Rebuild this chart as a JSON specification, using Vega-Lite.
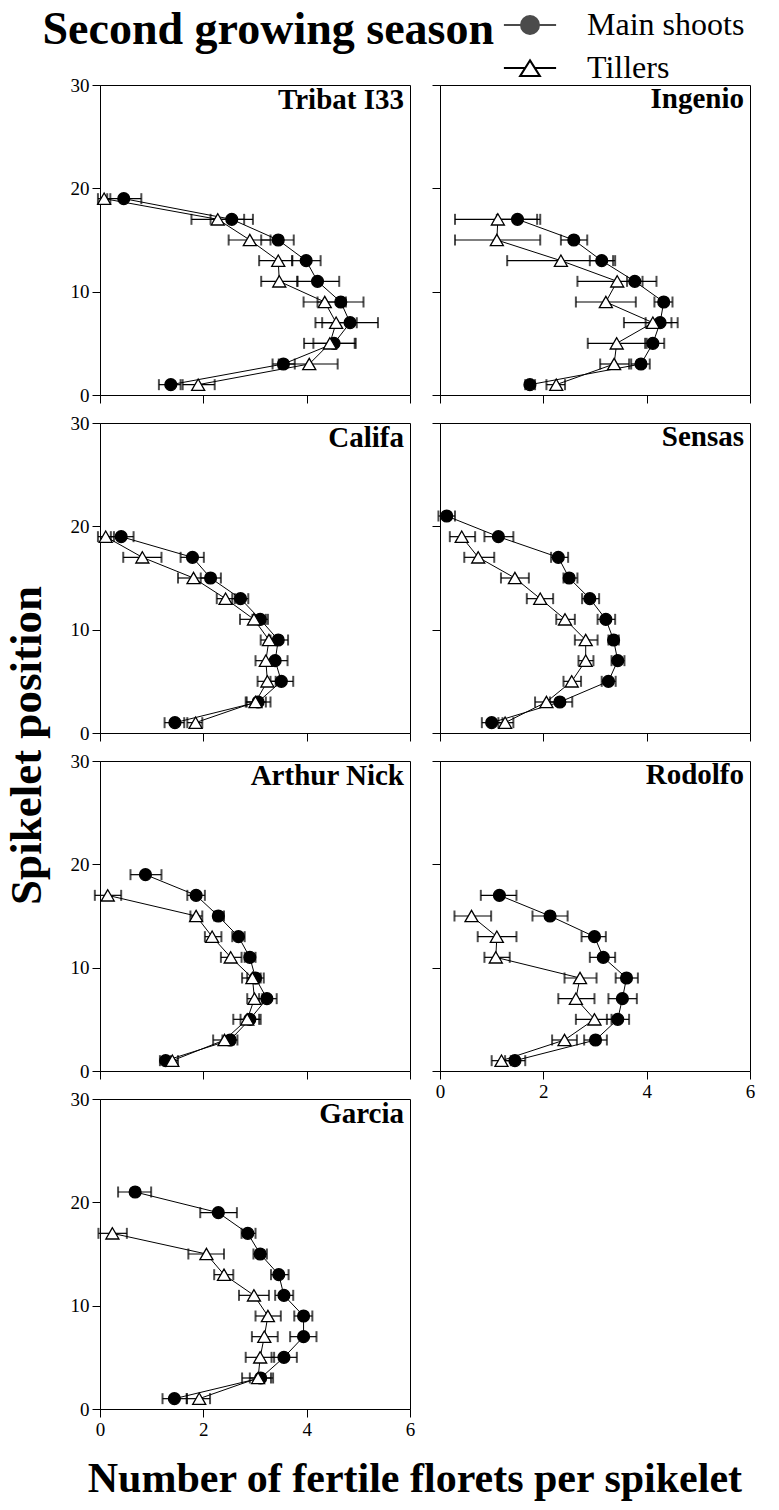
{
  "$schema": "https://vega.github.io/schema/vega-lite/v6.json",
  "background": "white",
  "padding": {"left": 4, "top": 7, "right": 5, "bottom": 5},
  "title": {"text": "Second growing season", "anchor": "start", "frame": "bounds", "orient": "top", "fontSize": 46, "fontWeight": "bold", "font": "Liberation Serif", "color": "black", "offset": -45, "dx": 38},
  "config": {
    "font": "Liberation Serif",
    "view": {"stroke": "black", "strokeWidth": 1},
    "legend": {"symbolBaseFillColor": "white", "symbolBaseStrokeColor": "black"},
    "axis": {"grid": false, "domainColor": "black", "tickColor": "black", "labelColor": "black", "labelFont": "Liberation Serif", "labelFontSize": 19, "tickSize": 8, "labelPadding": 3, "domainWidth": 1, "tickWidth": 1, "labelFlush": false, "labelOverlap": false}
  },
  "datasets": {
    "d": [
      {"cv":"Tribat I33","shoot":"Main shoots","pos":1,"mean":1.37,"lo":1.14,"hi":1.56},
      {"cv":"Tribat I33","shoot":"Main shoots","pos":3,"mean":3.55,"lo":3.34,"hi":3.77},
      {"cv":"Tribat I33","shoot":"Main shoots","pos":5,"mean":4.53,"lo":4.13,"hi":4.93},
      {"cv":"Tribat I33","shoot":"Main shoots","pos":7,"mean":4.84,"lo":4.30,"hi":5.38},
      {"cv":"Tribat I33","shoot":"Main shoots","pos":9,"mean":4.66,"lo":4.21,"hi":5.10},
      {"cv":"Tribat I33","shoot":"Main shoots","pos":11,"mean":4.21,"lo":3.82,"hi":4.63},
      {"cv":"Tribat I33","shoot":"Main shoots","pos":13,"mean":3.99,"lo":3.72,"hi":4.27},
      {"cv":"Tribat I33","shoot":"Main shoots","pos":15,"mean":3.45,"lo":3.12,"hi":3.75},
      {"cv":"Tribat I33","shoot":"Main shoots","pos":17,"mean":2.55,"lo":2.14,"hi":2.96},
      {"cv":"Tribat I33","shoot":"Main shoots","pos":19,"mean":0.46,"lo":0.14,"hi":0.80},
      {"cv":"Tribat I33","shoot":"Tillers","pos":1,"mean":1.90,"lo":1.60,"hi":2.22},
      {"cv":"Tribat I33","shoot":"Tillers","pos":3,"mean":4.05,"lo":3.46,"hi":4.60},
      {"cv":"Tribat I33","shoot":"Tillers","pos":5,"mean":4.45,"lo":3.95,"hi":4.95},
      {"cv":"Tribat I33","shoot":"Tillers","pos":7,"mean":4.57,"lo":4.17,"hi":4.97},
      {"cv":"Tribat I33","shoot":"Tillers","pos":9,"mean":4.35,"lo":3.94,"hi":4.76},
      {"cv":"Tribat I33","shoot":"Tillers","pos":11,"mean":3.47,"lo":3.12,"hi":3.82},
      {"cv":"Tribat I33","shoot":"Tillers","pos":13,"mean":3.45,"lo":3.08,"hi":3.72},
      {"cv":"Tribat I33","shoot":"Tillers","pos":15,"mean":2.90,"lo":2.49,"hi":3.30},
      {"cv":"Tribat I33","shoot":"Tillers","pos":17,"mean":2.28,"lo":1.77,"hi":2.79},
      {"cv":"Tribat I33","shoot":"Tillers","pos":19,"mean":0.08,"lo":-0.04,"hi":0.20},
      {"cv":"Ingenio","shoot":"Main shoots","pos":1,"mean":1.74,"lo":1.65,"hi":1.84},
      {"cv":"Ingenio","shoot":"Main shoots","pos":3,"mean":3.89,"lo":3.70,"hi":4.06},
      {"cv":"Ingenio","shoot":"Main shoots","pos":5,"mean":4.12,"lo":3.97,"hi":4.34},
      {"cv":"Ingenio","shoot":"Main shoots","pos":7,"mean":4.26,"lo":3.98,"hi":4.60},
      {"cv":"Ingenio","shoot":"Main shoots","pos":9,"mean":4.33,"lo":4.15,"hi":4.50},
      {"cv":"Ingenio","shoot":"Main shoots","pos":11,"mean":3.77,"lo":3.62,"hi":3.92},
      {"cv":"Ingenio","shoot":"Main shoots","pos":13,"mean":3.13,"lo":2.90,"hi":3.39},
      {"cv":"Ingenio","shoot":"Main shoots","pos":15,"mean":2.59,"lo":2.34,"hi":2.85},
      {"cv":"Ingenio","shoot":"Main shoots","pos":17,"mean":1.50,"lo":1.10,"hi":1.88},
      {"cv":"Ingenio","shoot":"Tillers","pos":1,"mean":2.25,"lo":2.06,"hi":2.42},
      {"cv":"Ingenio","shoot":"Tillers","pos":3,"mean":3.37,"lo":3.10,"hi":3.66},
      {"cv":"Ingenio","shoot":"Tillers","pos":5,"mean":3.42,"lo":2.86,"hi":4.00},
      {"cv":"Ingenio","shoot":"Tillers","pos":7,"mean":4.12,"lo":3.56,"hi":4.48},
      {"cv":"Ingenio","shoot":"Tillers","pos":9,"mean":3.21,"lo":2.63,"hi":3.79},
      {"cv":"Ingenio","shoot":"Tillers","pos":11,"mean":3.43,"lo":2.66,"hi":4.19},
      {"cv":"Ingenio","shoot":"Tillers","pos":13,"mean":2.34,"lo":1.30,"hi":3.35},
      {"cv":"Ingenio","shoot":"Tillers","pos":15,"mean":1.10,"lo":0.29,"hi":1.94},
      {"cv":"Ingenio","shoot":"Tillers","pos":17,"mean":1.12,"lo":0.29,"hi":1.94},
      {"cv":"Califa","shoot":"Main shoots","pos":1,"mean":1.45,"lo":1.25,"hi":1.63},
      {"cv":"Califa","shoot":"Main shoots","pos":3,"mean":3.06,"lo":2.82,"hi":3.30},
      {"cv":"Califa","shoot":"Main shoots","pos":5,"mean":3.51,"lo":3.30,"hi":3.74},
      {"cv":"Califa","shoot":"Main shoots","pos":7,"mean":3.39,"lo":3.21,"hi":3.63},
      {"cv":"Califa","shoot":"Main shoots","pos":9,"mean":3.45,"lo":3.30,"hi":3.64},
      {"cv":"Califa","shoot":"Main shoots","pos":11,"mean":3.10,"lo":2.95,"hi":3.25},
      {"cv":"Califa","shoot":"Main shoots","pos":13,"mean":2.72,"lo":2.56,"hi":2.87},
      {"cv":"Califa","shoot":"Main shoots","pos":15,"mean":2.14,"lo":1.95,"hi":2.34},
      {"cv":"Califa","shoot":"Main shoots","pos":17,"mean":1.79,"lo":1.56,"hi":2.01},
      {"cv":"Califa","shoot":"Main shoots","pos":19,"mean":0.41,"lo":0.21,"hi":0.65},
      {"cv":"Califa","shoot":"Tillers","pos":1,"mean":1.85,"lo":1.69,"hi":1.98},
      {"cv":"Califa","shoot":"Tillers","pos":3,"mean":3.01,"lo":2.84,"hi":3.21},
      {"cv":"Califa","shoot":"Tillers","pos":5,"mean":3.24,"lo":3.05,"hi":3.40},
      {"cv":"Califa","shoot":"Tillers","pos":7,"mean":3.21,"lo":3.01,"hi":3.40},
      {"cv":"Califa","shoot":"Tillers","pos":9,"mean":3.27,"lo":3.11,"hi":3.43},
      {"cv":"Califa","shoot":"Tillers","pos":11,"mean":2.98,"lo":2.71,"hi":3.21},
      {"cv":"Califa","shoot":"Tillers","pos":13,"mean":2.43,"lo":2.26,"hi":2.61},
      {"cv":"Califa","shoot":"Tillers","pos":15,"mean":1.81,"lo":1.51,"hi":2.08},
      {"cv":"Califa","shoot":"Tillers","pos":17,"mean":0.82,"lo":0.45,"hi":1.19},
      {"cv":"Califa","shoot":"Tillers","pos":19,"mean":0.11,"lo":-0.04,"hi":0.27},
      {"cv":"Sensas","shoot":"Main shoots","pos":1,"mean":1.00,"lo":0.81,"hi":1.21},
      {"cv":"Sensas","shoot":"Main shoots","pos":3,"mean":2.32,"lo":2.13,"hi":2.56},
      {"cv":"Sensas","shoot":"Main shoots","pos":5,"mean":3.26,"lo":3.13,"hi":3.40},
      {"cv":"Sensas","shoot":"Main shoots","pos":7,"mean":3.44,"lo":3.32,"hi":3.57},
      {"cv":"Sensas","shoot":"Main shoots","pos":9,"mean":3.36,"lo":3.26,"hi":3.46},
      {"cv":"Sensas","shoot":"Main shoots","pos":11,"mean":3.21,"lo":3.05,"hi":3.39},
      {"cv":"Sensas","shoot":"Main shoots","pos":13,"mean":2.90,"lo":2.75,"hi":3.08},
      {"cv":"Sensas","shoot":"Main shoots","pos":15,"mean":2.50,"lo":2.39,"hi":2.66},
      {"cv":"Sensas","shoot":"Main shoots","pos":17,"mean":2.29,"lo":2.15,"hi":2.48},
      {"cv":"Sensas","shoot":"Main shoots","pos":19,"mean":1.13,"lo":0.86,"hi":1.42},
      {"cv":"Sensas","shoot":"Main shoots","pos":21,"mean":0.13,"lo":-0.03,"hi":0.29},
      {"cv":"Sensas","shoot":"Tillers","pos":1,"mean":1.26,"lo":1.13,"hi":1.42},
      {"cv":"Sensas","shoot":"Tillers","pos":3,"mean":2.06,"lo":1.84,"hi":2.29},
      {"cv":"Sensas","shoot":"Tillers","pos":5,"mean":2.55,"lo":2.39,"hi":2.73},
      {"cv":"Sensas","shoot":"Tillers","pos":7,"mean":2.82,"lo":2.68,"hi":2.97},
      {"cv":"Sensas","shoot":"Tillers","pos":9,"mean":2.82,"lo":2.61,"hi":3.05},
      {"cv":"Sensas","shoot":"Tillers","pos":11,"mean":2.42,"lo":2.25,"hi":2.61},
      {"cv":"Sensas","shoot":"Tillers","pos":13,"mean":1.94,"lo":1.68,"hi":2.19},
      {"cv":"Sensas","shoot":"Tillers","pos":15,"mean":1.45,"lo":1.18,"hi":1.72},
      {"cv":"Sensas","shoot":"Tillers","pos":17,"mean":0.74,"lo":0.47,"hi":1.05},
      {"cv":"Sensas","shoot":"Tillers","pos":19,"mean":0.42,"lo":0.19,"hi":0.68},
      {"cv":"Arthur Nick","shoot":"Main shoots","pos":1,"mean":1.27,"lo":1.16,"hi":1.37},
      {"cv":"Arthur Nick","shoot":"Main shoots","pos":3,"mean":2.52,"lo":2.37,"hi":2.66},
      {"cv":"Arthur Nick","shoot":"Main shoots","pos":5,"mean":2.90,"lo":2.72,"hi":3.11},
      {"cv":"Arthur Nick","shoot":"Main shoots","pos":7,"mean":3.23,"lo":3.08,"hi":3.42},
      {"cv":"Arthur Nick","shoot":"Main shoots","pos":9,"mean":3.01,"lo":2.85,"hi":3.17},
      {"cv":"Arthur Nick","shoot":"Main shoots","pos":11,"mean":2.90,"lo":2.80,"hi":3.01},
      {"cv":"Arthur Nick","shoot":"Main shoots","pos":13,"mean":2.68,"lo":2.56,"hi":2.80},
      {"cv":"Arthur Nick","shoot":"Main shoots","pos":15,"mean":2.29,"lo":2.21,"hi":2.40},
      {"cv":"Arthur Nick","shoot":"Main shoots","pos":17,"mean":1.86,"lo":1.69,"hi":2.03},
      {"cv":"Arthur Nick","shoot":"Main shoots","pos":19,"mean":0.88,"lo":0.59,"hi":1.19},
      {"cv":"Arthur Nick","shoot":"Tillers","pos":1,"mean":1.40,"lo":1.29,"hi":1.51},
      {"cv":"Arthur Nick","shoot":"Tillers","pos":3,"mean":2.41,"lo":2.19,"hi":2.59},
      {"cv":"Arthur Nick","shoot":"Tillers","pos":5,"mean":2.85,"lo":2.58,"hi":3.08},
      {"cv":"Arthur Nick","shoot":"Tillers","pos":7,"mean":2.99,"lo":2.85,"hi":3.14},
      {"cv":"Arthur Nick","shoot":"Tillers","pos":9,"mean":2.95,"lo":2.75,"hi":3.11},
      {"cv":"Arthur Nick","shoot":"Tillers","pos":11,"mean":2.53,"lo":2.34,"hi":2.74},
      {"cv":"Arthur Nick","shoot":"Tillers","pos":13,"mean":2.17,"lo":2.03,"hi":2.35},
      {"cv":"Arthur Nick","shoot":"Tillers","pos":15,"mean":1.86,"lo":1.75,"hi":1.98},
      {"cv":"Arthur Nick","shoot":"Tillers","pos":17,"mean":0.15,"lo":-0.10,"hi":0.41},
      {"cv":"Rodolfo","shoot":"Main shoots","pos":1,"mean":1.45,"lo":1.26,"hi":1.65},
      {"cv":"Rodolfo","shoot":"Main shoots","pos":3,"mean":3.01,"lo":2.79,"hi":3.23},
      {"cv":"Rodolfo","shoot":"Main shoots","pos":5,"mean":3.44,"lo":3.23,"hi":3.66},
      {"cv":"Rodolfo","shoot":"Main shoots","pos":7,"mean":3.53,"lo":3.26,"hi":3.81},
      {"cv":"Rodolfo","shoot":"Main shoots","pos":9,"mean":3.61,"lo":3.40,"hi":3.83},
      {"cv":"Rodolfo","shoot":"Main shoots","pos":11,"mean":3.16,"lo":2.90,"hi":3.39},
      {"cv":"Rodolfo","shoot":"Main shoots","pos":13,"mean":2.99,"lo":2.74,"hi":3.21},
      {"cv":"Rodolfo","shoot":"Main shoots","pos":15,"mean":2.13,"lo":1.79,"hi":2.47},
      {"cv":"Rodolfo","shoot":"Main shoots","pos":17,"mean":1.15,"lo":0.79,"hi":1.48},
      {"cv":"Rodolfo","shoot":"Tillers","pos":1,"mean":1.19,"lo":1.00,"hi":1.37},
      {"cv":"Rodolfo","shoot":"Tillers","pos":3,"mean":2.41,"lo":2.17,"hi":2.65},
      {"cv":"Rodolfo","shoot":"Tillers","pos":5,"mean":2.99,"lo":2.63,"hi":3.32},
      {"cv":"Rodolfo","shoot":"Tillers","pos":7,"mean":2.63,"lo":2.29,"hi":2.99},
      {"cv":"Rodolfo","shoot":"Tillers","pos":9,"mean":2.71,"lo":2.41,"hi":3.03},
      {"cv":"Rodolfo","shoot":"Tillers","pos":11,"mean":1.08,"lo":0.86,"hi":1.35},
      {"cv":"Rodolfo","shoot":"Tillers","pos":13,"mean":1.10,"lo":0.73,"hi":1.48},
      {"cv":"Rodolfo","shoot":"Tillers","pos":15,"mean":0.61,"lo":0.28,"hi":0.99},
      {"cv":"Garcia","shoot":"Main shoots","pos":1,"mean":1.44,"lo":1.21,"hi":1.68},
      {"cv":"Garcia","shoot":"Main shoots","pos":3,"mean":3.11,"lo":2.90,"hi":3.35},
      {"cv":"Garcia","shoot":"Main shoots","pos":5,"mean":3.56,"lo":3.32,"hi":3.81},
      {"cv":"Garcia","shoot":"Main shoots","pos":7,"mean":3.94,"lo":3.68,"hi":4.19},
      {"cv":"Garcia","shoot":"Main shoots","pos":9,"mean":3.94,"lo":3.76,"hi":4.11},
      {"cv":"Garcia","shoot":"Main shoots","pos":11,"mean":3.56,"lo":3.39,"hi":3.74},
      {"cv":"Garcia","shoot":"Main shoots","pos":13,"mean":3.46,"lo":3.31,"hi":3.65},
      {"cv":"Garcia","shoot":"Main shoots","pos":15,"mean":3.10,"lo":2.97,"hi":3.23},
      {"cv":"Garcia","shoot":"Main shoots","pos":17,"mean":2.86,"lo":2.74,"hi":3.01},
      {"cv":"Garcia","shoot":"Main shoots","pos":19,"mean":2.29,"lo":1.94,"hi":2.65},
      {"cv":"Garcia","shoot":"Main shoots","pos":21,"mean":0.68,"lo":0.35,"hi":0.99},
      {"cv":"Garcia","shoot":"Tillers","pos":1,"mean":1.92,"lo":1.68,"hi":2.13},
      {"cv":"Garcia","shoot":"Tillers","pos":3,"mean":3.06,"lo":2.75,"hi":3.31},
      {"cv":"Garcia","shoot":"Tillers","pos":5,"mean":3.10,"lo":2.82,"hi":3.37},
      {"cv":"Garcia","shoot":"Tillers","pos":7,"mean":3.18,"lo":2.94,"hi":3.44},
      {"cv":"Garcia","shoot":"Tillers","pos":9,"mean":3.25,"lo":3.01,"hi":3.50},
      {"cv":"Garcia","shoot":"Tillers","pos":11,"mean":2.98,"lo":2.69,"hi":3.27},
      {"cv":"Garcia","shoot":"Tillers","pos":13,"mean":2.40,"lo":2.21,"hi":2.58},
      {"cv":"Garcia","shoot":"Tillers","pos":15,"mean":2.06,"lo":1.71,"hi":2.40},
      {"cv":"Garcia","shoot":"Tillers","pos":17,"mean":0.24,"lo":-0.03,"hi":0.52}
    ]
  },
  "vconcat": [
    {
      "title": {"text": "Number of fertile florets per spikelet", "orient": "bottom", "anchor": "middle", "frame": "bounds", "fontSize": 42, "fontWeight": "bold", "font": "Liberation Serif", "color": "black", "offset": 19, "dx": 35},
      "vconcat": [
        {
          "title": {"text": "Spikelet position", "orient": "left", "anchor": "middle", "frame": "bounds", "fontSize": 45, "fontWeight": "bold", "font": "Liberation Serif", "color": "black", "offset": 20, "dx": 12},
          "columns": 2,
          "bounds": "flush",
          "spacing": {"row": 28, "column": 30},
          "concat": [
            {
              "width": 310, "height": 310,
              "title": {"text": "Tribat I33", "anchor": "end", "frame": "group", "orient": "top", "offset": -12, "dy": 27, "dx": -6, "fontSize": 29, "fontWeight": "bold", "font": "Liberation Serif", "color": "black"},
              "data": {"name": "d"},
              "transform": [{"filter": {"field": "cv", "equal": "Tribat I33"}}],
              "encoding": {"y": {"field": "pos", "type": "quantitative", "title": null, "scale": {"domain": [0, 30], "nice": false}, "axis": {"values": [0, 10, 20, 30], "labels": true}}},
              "layer": [
                {"mark": {"type": "rule", "color": "black", "strokeWidth": 1.2}, "encoding": {"x": {"field": "lo", "type": "quantitative", "title": null, "scale": {"domain": [0, 6], "nice": false}, "axis": {"values": [0, 2, 4, 6], "labels": false}}, "x2": {"field": "hi"}}},
                {"mark": {"type": "tick", "orient": "vertical", "color": "black", "size": 11, "thickness": 2}, "encoding": {"x": {"field": "lo", "type": "quantitative", "title": null}}},
                {"mark": {"type": "tick", "orient": "vertical", "color": "black", "size": 11, "thickness": 2}, "encoding": {"x": {"field": "hi", "type": "quantitative", "title": null}}},
                {"mark": {"type": "line", "color": "black", "strokeWidth": 1}, "encoding": {"x": {"field": "mean", "type": "quantitative", "title": null}, "detail": {"field": "shoot"}, "order": {"field": "pos", "type": "quantitative"}}},
                {"mark": {"type": "point", "filled": true, "stroke": "black", "strokeWidth": 1.3}, "encoding": {
                  "x": {"field": "mean", "type": "quantitative", "title": null},
                  "shape": {"field": "shoot", "type": "nominal", "scale": {"range": ["circle", "triangle-up"]}, "legend": null},
                  "size": {"field": "shoot", "type": "nominal", "scale": {"range": [140, 170]}, "legend": null},
                  "fill": {"field": "shoot", "type": "nominal", "scale": {"domain": ["Main shoots", "Tillers"], "range": ["black", "white"]},
                    "legend": {"title": null, "orient": "none", "legendX": 414, "legendY": -76, "values": ["Main shoots"], "labelFont": "Liberation Serif", "labelFontSize": 32, "labelColor": "black", "labelOffset": 41, "symbolSize": 324, "symbolType": "M-2.9,0H2.9M1,0A1,1,0,1,1,-1,0A1,1,0,1,1,1,0Z", "symbolStrokeColor": "black", "symbolStrokeWidth": 2, "symbolOpacity": 1}},
                  "opacity": {"field": "shoot", "type": "nominal", "scale": {"domain": ["Tillers", "Main shoots"], "range": [1, 1]},
                    "legend": {"title": null, "orient": "none", "legendX": 414, "legendY": -33, "values": ["Tillers"], "labelFont": "Liberation Serif", "labelFontSize": 32, "labelColor": "black", "labelOffset": 41, "symbolSize": 324, "symbolType": "M-2.9,0H-0.53M0.53,0H2.9M0,-0.85L1.1,0.9L-1.1,0.9Z", "symbolFillColor": "white", "symbolStrokeColor": "black", "symbolStrokeWidth": 2, "symbolOpacity": 1}}}}
              ]
            },
            {
              "width": 310, "height": 310,
              "title": {"text": "Ingenio", "anchor": "end", "frame": "group", "orient": "top", "offset": -2, "dy": 27, "dx": -6, "fontSize": 29, "fontWeight": "bold", "font": "Liberation Serif", "color": "black"},
              "data": {"name": "d"},
              "transform": [{"filter": {"field": "cv", "equal": "Ingenio"}}],
              "encoding": {"y": {"field": "pos", "type": "quantitative", "title": null, "scale": {"domain": [0, 30], "nice": false}, "axis": {"values": [0, 10, 20, 30], "labels": false}}},
              "layer": [
                {"mark": {"type": "rule", "color": "black", "strokeWidth": 1.2}, "encoding": {"x": {"field": "lo", "type": "quantitative", "title": null, "scale": {"domain": [0, 6], "nice": false}, "axis": {"values": [0, 2, 4, 6], "labels": false}}, "x2": {"field": "hi"}}},
                {"mark": {"type": "tick", "orient": "vertical", "color": "black", "size": 11, "thickness": 2}, "encoding": {"x": {"field": "lo", "type": "quantitative", "title": null}}},
                {"mark": {"type": "tick", "orient": "vertical", "color": "black", "size": 11, "thickness": 2}, "encoding": {"x": {"field": "hi", "type": "quantitative", "title": null}}},
                {"mark": {"type": "line", "color": "black", "strokeWidth": 1}, "encoding": {"x": {"field": "mean", "type": "quantitative", "title": null}, "detail": {"field": "shoot"}, "order": {"field": "pos", "type": "quantitative"}}},
                {"mark": {"type": "point", "filled": true, "stroke": "black", "strokeWidth": 1.3}, "encoding": {
                  "x": {"field": "mean", "type": "quantitative", "title": null},
                  "shape": {"field": "shoot", "type": "nominal", "scale": {"range": ["circle", "triangle-up"]}, "legend": null},
                  "size": {"field": "shoot", "type": "nominal", "scale": {"range": [140, 170]}, "legend": null},
                  "fill": {"field": "shoot", "type": "nominal", "scale": {"domain": ["Main shoots", "Tillers"], "range": ["black", "white"]}},
                  "opacity": {"field": "shoot", "type": "nominal", "scale": {"domain": ["Tillers", "Main shoots"], "range": [1, 1]}}}}
              ]
            },
            {
              "width": 310, "height": 310,
              "title": {"text": "Califa", "anchor": "end", "frame": "group", "orient": "top", "offset": -12, "dy": 27, "dx": -6, "fontSize": 29, "fontWeight": "bold", "font": "Liberation Serif", "color": "black"},
              "data": {"name": "d"},
              "transform": [{"filter": {"field": "cv", "equal": "Califa"}}],
              "encoding": {"y": {"field": "pos", "type": "quantitative", "title": null, "scale": {"domain": [0, 30], "nice": false}, "axis": {"values": [0, 10, 20, 30], "labels": true}}},
              "layer": [
                {"mark": {"type": "rule", "color": "black", "strokeWidth": 1.2}, "encoding": {"x": {"field": "lo", "type": "quantitative", "title": null, "scale": {"domain": [0, 6], "nice": false}, "axis": {"values": [0, 2, 4, 6], "labels": false}}, "x2": {"field": "hi"}}},
                {"mark": {"type": "tick", "orient": "vertical", "color": "black", "size": 11, "thickness": 2}, "encoding": {"x": {"field": "lo", "type": "quantitative", "title": null}}},
                {"mark": {"type": "tick", "orient": "vertical", "color": "black", "size": 11, "thickness": 2}, "encoding": {"x": {"field": "hi", "type": "quantitative", "title": null}}},
                {"mark": {"type": "line", "color": "black", "strokeWidth": 1}, "encoding": {"x": {"field": "mean", "type": "quantitative", "title": null}, "detail": {"field": "shoot"}, "order": {"field": "pos", "type": "quantitative"}}},
                {"mark": {"type": "point", "filled": true, "stroke": "black", "strokeWidth": 1.3}, "encoding": {
                  "x": {"field": "mean", "type": "quantitative", "title": null},
                  "shape": {"field": "shoot", "type": "nominal", "scale": {"range": ["circle", "triangle-up"]}, "legend": null},
                  "size": {"field": "shoot", "type": "nominal", "scale": {"range": [140, 170]}, "legend": null},
                  "fill": {"field": "shoot", "type": "nominal", "scale": {"domain": ["Main shoots", "Tillers"], "range": ["black", "white"]}},
                  "opacity": {"field": "shoot", "type": "nominal", "scale": {"domain": ["Tillers", "Main shoots"], "range": [1, 1]}}}}
              ]
            },
            {
              "width": 310, "height": 310,
              "title": {"text": "Sensas", "anchor": "end", "frame": "group", "orient": "top", "offset": -2, "dy": 27, "dx": -6, "fontSize": 29, "fontWeight": "bold", "font": "Liberation Serif", "color": "black"},
              "data": {"name": "d"},
              "transform": [{"filter": {"field": "cv", "equal": "Sensas"}}],
              "encoding": {"y": {"field": "pos", "type": "quantitative", "title": null, "scale": {"domain": [0, 30], "nice": false}, "axis": {"values": [0, 10, 20, 30], "labels": false}}},
              "layer": [
                {"mark": {"type": "rule", "color": "black", "strokeWidth": 1.2}, "encoding": {"x": {"field": "lo", "type": "quantitative", "title": null, "scale": {"domain": [0, 6], "nice": false}, "axis": {"values": [0, 2, 4, 6], "labels": false}}, "x2": {"field": "hi"}}},
                {"mark": {"type": "tick", "orient": "vertical", "color": "black", "size": 11, "thickness": 2}, "encoding": {"x": {"field": "lo", "type": "quantitative", "title": null}}},
                {"mark": {"type": "tick", "orient": "vertical", "color": "black", "size": 11, "thickness": 2}, "encoding": {"x": {"field": "hi", "type": "quantitative", "title": null}}},
                {"mark": {"type": "line", "color": "black", "strokeWidth": 1}, "encoding": {"x": {"field": "mean", "type": "quantitative", "title": null}, "detail": {"field": "shoot"}, "order": {"field": "pos", "type": "quantitative"}}},
                {"mark": {"type": "point", "filled": true, "stroke": "black", "strokeWidth": 1.3}, "encoding": {
                  "x": {"field": "mean", "type": "quantitative", "title": null},
                  "shape": {"field": "shoot", "type": "nominal", "scale": {"range": ["circle", "triangle-up"]}, "legend": null},
                  "size": {"field": "shoot", "type": "nominal", "scale": {"range": [140, 170]}, "legend": null},
                  "fill": {"field": "shoot", "type": "nominal", "scale": {"domain": ["Main shoots", "Tillers"], "range": ["black", "white"]}},
                  "opacity": {"field": "shoot", "type": "nominal", "scale": {"domain": ["Tillers", "Main shoots"], "range": [1, 1]}}}}
              ]
            },
            {
              "width": 310, "height": 310,
              "title": {"text": "Arthur Nick", "anchor": "end", "frame": "group", "orient": "top", "offset": -12, "dy": 27, "dx": -6, "fontSize": 29, "fontWeight": "bold", "font": "Liberation Serif", "color": "black"},
              "data": {"name": "d"},
              "transform": [{"filter": {"field": "cv", "equal": "Arthur Nick"}}],
              "encoding": {"y": {"field": "pos", "type": "quantitative", "title": null, "scale": {"domain": [0, 30], "nice": false}, "axis": {"values": [0, 10, 20, 30], "labels": true}}},
              "layer": [
                {"mark": {"type": "rule", "color": "black", "strokeWidth": 1.2}, "encoding": {"x": {"field": "lo", "type": "quantitative", "title": null, "scale": {"domain": [0, 6], "nice": false}, "axis": {"values": [0, 2, 4, 6], "labels": false}}, "x2": {"field": "hi"}}},
                {"mark": {"type": "tick", "orient": "vertical", "color": "black", "size": 11, "thickness": 2}, "encoding": {"x": {"field": "lo", "type": "quantitative", "title": null}}},
                {"mark": {"type": "tick", "orient": "vertical", "color": "black", "size": 11, "thickness": 2}, "encoding": {"x": {"field": "hi", "type": "quantitative", "title": null}}},
                {"mark": {"type": "line", "color": "black", "strokeWidth": 1}, "encoding": {"x": {"field": "mean", "type": "quantitative", "title": null}, "detail": {"field": "shoot"}, "order": {"field": "pos", "type": "quantitative"}}},
                {"mark": {"type": "point", "filled": true, "stroke": "black", "strokeWidth": 1.3}, "encoding": {
                  "x": {"field": "mean", "type": "quantitative", "title": null},
                  "shape": {"field": "shoot", "type": "nominal", "scale": {"range": ["circle", "triangle-up"]}, "legend": null},
                  "size": {"field": "shoot", "type": "nominal", "scale": {"range": [140, 170]}, "legend": null},
                  "fill": {"field": "shoot", "type": "nominal", "scale": {"domain": ["Main shoots", "Tillers"], "range": ["black", "white"]}},
                  "opacity": {"field": "shoot", "type": "nominal", "scale": {"domain": ["Tillers", "Main shoots"], "range": [1, 1]}}}}
              ]
            },
            {
              "width": 310, "height": 310,
              "title": {"text": "Rodolfo", "anchor": "end", "frame": "group", "orient": "top", "offset": -2, "dy": 27, "dx": -6, "fontSize": 29, "fontWeight": "bold", "font": "Liberation Serif", "color": "black"},
              "data": {"name": "d"},
              "transform": [{"filter": {"field": "cv", "equal": "Rodolfo"}}],
              "encoding": {"y": {"field": "pos", "type": "quantitative", "title": null, "scale": {"domain": [0, 30], "nice": false}, "axis": {"values": [0, 10, 20, 30], "labels": false}}},
              "layer": [
                {"mark": {"type": "rule", "color": "black", "strokeWidth": 1.2}, "encoding": {"x": {"field": "lo", "type": "quantitative", "title": null, "scale": {"domain": [0, 6], "nice": false}, "axis": {"values": [0, 2, 4, 6], "labels": true}}, "x2": {"field": "hi"}}},
                {"mark": {"type": "tick", "orient": "vertical", "color": "black", "size": 11, "thickness": 2}, "encoding": {"x": {"field": "lo", "type": "quantitative", "title": null}}},
                {"mark": {"type": "tick", "orient": "vertical", "color": "black", "size": 11, "thickness": 2}, "encoding": {"x": {"field": "hi", "type": "quantitative", "title": null}}},
                {"mark": {"type": "line", "color": "black", "strokeWidth": 1}, "encoding": {"x": {"field": "mean", "type": "quantitative", "title": null}, "detail": {"field": "shoot"}, "order": {"field": "pos", "type": "quantitative"}}},
                {"mark": {"type": "point", "filled": true, "stroke": "black", "strokeWidth": 1.3}, "encoding": {
                  "x": {"field": "mean", "type": "quantitative", "title": null},
                  "shape": {"field": "shoot", "type": "nominal", "scale": {"range": ["circle", "triangle-up"]}, "legend": null},
                  "size": {"field": "shoot", "type": "nominal", "scale": {"range": [140, 170]}, "legend": null},
                  "fill": {"field": "shoot", "type": "nominal", "scale": {"domain": ["Main shoots", "Tillers"], "range": ["black", "white"]}},
                  "opacity": {"field": "shoot", "type": "nominal", "scale": {"domain": ["Tillers", "Main shoots"], "range": [1, 1]}}}}
              ]
            },
            {
              "width": 310, "height": 310,
              "title": {"text": "Garcia", "anchor": "end", "frame": "group", "orient": "top", "offset": -12, "dy": 27, "dx": -6, "fontSize": 29, "fontWeight": "bold", "font": "Liberation Serif", "color": "black"},
              "data": {"name": "d"},
              "transform": [{"filter": {"field": "cv", "equal": "Garcia"}}],
              "encoding": {"y": {"field": "pos", "type": "quantitative", "title": null, "scale": {"domain": [0, 30], "nice": false}, "axis": {"values": [0, 10, 20, 30], "labels": true}}},
              "layer": [
                {"mark": {"type": "rule", "color": "black", "strokeWidth": 1.2}, "encoding": {"x": {"field": "lo", "type": "quantitative", "title": null, "scale": {"domain": [0, 6], "nice": false}, "axis": {"values": [0, 2, 4, 6], "labels": true}}, "x2": {"field": "hi"}}},
                {"mark": {"type": "tick", "orient": "vertical", "color": "black", "size": 11, "thickness": 2}, "encoding": {"x": {"field": "lo", "type": "quantitative", "title": null}}},
                {"mark": {"type": "tick", "orient": "vertical", "color": "black", "size": 11, "thickness": 2}, "encoding": {"x": {"field": "hi", "type": "quantitative", "title": null}}},
                {"mark": {"type": "line", "color": "black", "strokeWidth": 1}, "encoding": {"x": {"field": "mean", "type": "quantitative", "title": null}, "detail": {"field": "shoot"}, "order": {"field": "pos", "type": "quantitative"}}},
                {"mark": {"type": "point", "filled": true, "stroke": "black", "strokeWidth": 1.3}, "encoding": {
                  "x": {"field": "mean", "type": "quantitative", "title": null},
                  "shape": {"field": "shoot", "type": "nominal", "scale": {"range": ["circle", "triangle-up"]}, "legend": null},
                  "size": {"field": "shoot", "type": "nominal", "scale": {"range": [140, 170]}, "legend": null},
                  "fill": {"field": "shoot", "type": "nominal", "scale": {"domain": ["Main shoots", "Tillers"], "range": ["black", "white"]}},
                  "opacity": {"field": "shoot", "type": "nominal", "scale": {"domain": ["Tillers", "Main shoots"], "range": [1, 1]}}}}
              ]
            }
          ]
        }
      ]
    }
  ]
}
